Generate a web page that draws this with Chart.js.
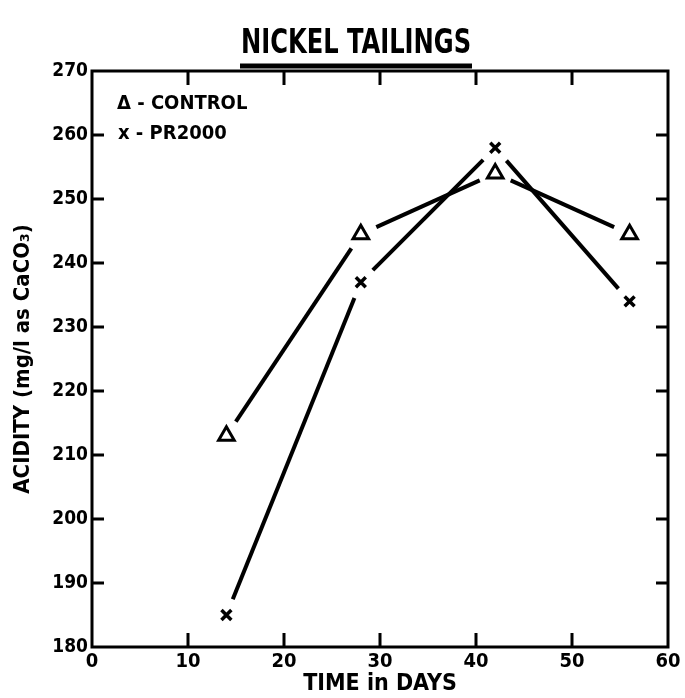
<!DOCTYPE html>
<html>
<head>
<meta charset="utf-8">
<script src="https://cdn.jsdelivr.net/npm/chart.js@4.4.0/dist/chart.umd.min.js"></script>
<style>
  body { margin: 0; background: #fff; }
  #wrap { width: 685px; height: 698px; position: relative; }
</style>
</head>
<body>
<div id="wrap"><canvas id="lineChart"></canvas></div>
<script>
// data
const days = [14, 28, 42, 56];
const control = [213, 244.5, 254, 244.5];
const pr2000 = [185, 237, 258, 234];
const seriesNames = ['CONTROL', 'PR2000'];
const xTickMarks = [10, 20, 30, 40, 50];
const yTickMarks = [190, 200, 210, 220, 230, 240, 250, 260];

const FONT = "'DejaVu Sans Condensed', 'DejaVu Sans', sans-serif";
const GAP = 17; // lines stop short of the markers

function pts(ys) {
  return days.map((d, i) => ({ x: d, y: ys[i] }));
}

// trim both ends of every segment with a dash pattern
function gapDash(c) {
  const L = Math.hypot(c.p1.x - c.p0.x, c.p1.y - c.p0.y);
  return [0, GAP, Math.max(L - 2 * GAP, 0), GAP + 2000];
}

// frame, inward ticks, title and hand-lettered legend
const decor = {
  id: 'decor',
  afterDatasetsDraw(chart) {
    const ctx = chart.ctx;
    const a = chart.chartArea;
    const xs = chart.scales.x, ys = chart.scales.y;
    ctx.save();
    ctx.strokeStyle = '#000';
    ctx.lineWidth = 3;
    ctx.setLineDash([]);
    ctx.strokeRect(a.left, a.top, a.right - a.left, a.bottom - a.top);
    ctx.beginPath();
    xTickMarks.forEach(v => {
      const px = xs.getPixelForValue(v);
      ctx.moveTo(px, a.bottom); ctx.lineTo(px, a.bottom - 14);
      ctx.moveTo(px, a.top); ctx.lineTo(px, a.top + 14);
    });
    yTickMarks.forEach(v => {
      const py = ys.getPixelForValue(v);
      ctx.moveTo(a.left, py); ctx.lineTo(a.left + 12, py);
      ctx.moveTo(a.right, py); ctx.lineTo(a.right - 12, py);
    });
    ctx.stroke();

    // title with underline (narrow lettering)
    ctx.fillStyle = '#000';
    ctx.save();
    ctx.translate(356, 53);
    ctx.scale(0.815, 1);
    ctx.font = 'bold 33px ' + FONT;
    ctx.textAlign = 'center';
    ctx.textBaseline = 'alphabetic';
    ctx.fillText('NICKEL TAILINGS', 0, 0);
    ctx.restore();
    ctx.lineWidth = 5;
    ctx.beginPath();
    ctx.moveTo(240, 66); ctx.lineTo(472, 66);
    ctx.stroke();

    // legend
    ctx.font = 'bold 20px ' + FONT;
    ctx.textAlign = 'left';
    ctx.textBaseline = 'middle';
    ctx.fillText('\u0394 - ' + seriesNames[0], 117, 104);
    ctx.fillText('x - ' + seriesNames[1], 118, 134);
    ctx.restore();
  }
};

new Chart(document.getElementById('lineChart'), {
  type: 'scatter',
  data: {
    datasets: [
      {
        label: seriesNames[0], data: pts(control), showLine: true,
        borderColor: '#000', borderWidth: 4,
        segment: { borderDash: gapDash },
        pointStyle: 'triangle', pointRadius: 9, pointBorderWidth: 3,
        pointBorderColor: '#000', pointBackgroundColor: '#fff'
      },
      {
        label: seriesNames[1], data: pts(pr2000), showLine: true,
        borderColor: '#000', borderWidth: 4,
        segment: { borderDash: gapDash },
        pointStyle: 'crossRot', pointRadius: 7, pointBorderWidth: 3.5,
        pointBorderColor: '#000', pointBackgroundColor: '#000'
      }
    ]
  },
  options: {
    responsive: true,
    maintainAspectRatio: false,
    animation: false,
    layout: { padding: { top: 71, right: 17, left: 0, bottom: 0 } },
    plugins: {
      legend: { display: false },
      tooltip: { enabled: false }
    },
    scales: {
      x: {
        type: 'linear',
        min: 0, max: 60,
        ticks: { stepSize: 10, color: '#000', padding: 3, font: { family: FONT, size: 20, weight: 'bold' } },
        grid: { display: false, drawTicks: false },
        border: { display: false },
        title: { display: true, text: 'TIME in DAYS', color: '#000', padding: 0, font: { family: FONT, size: 23, weight: 'bold' } },
        afterFit(s) { s.height = 51; }
      },
      y: {
        min: 180, max: 270,
        ticks: { stepSize: 10, color: '#000', padding: 4, font: { family: FONT, size: 19, weight: 'bold' } },
        grid: { display: false, drawTicks: false },
        border: { display: false },
        title: { display: true, text: 'ACIDITY (mg/l as CaCO\u2083)', color: '#000', padding: { top: 10, bottom: 0 }, font: { family: FONT, size: 22, weight: 'bold' } },
        afterFit(s) { s.width = 92; }
      }
    }
  },
  plugins: [decor]
});
</script>
</body>
</html>
